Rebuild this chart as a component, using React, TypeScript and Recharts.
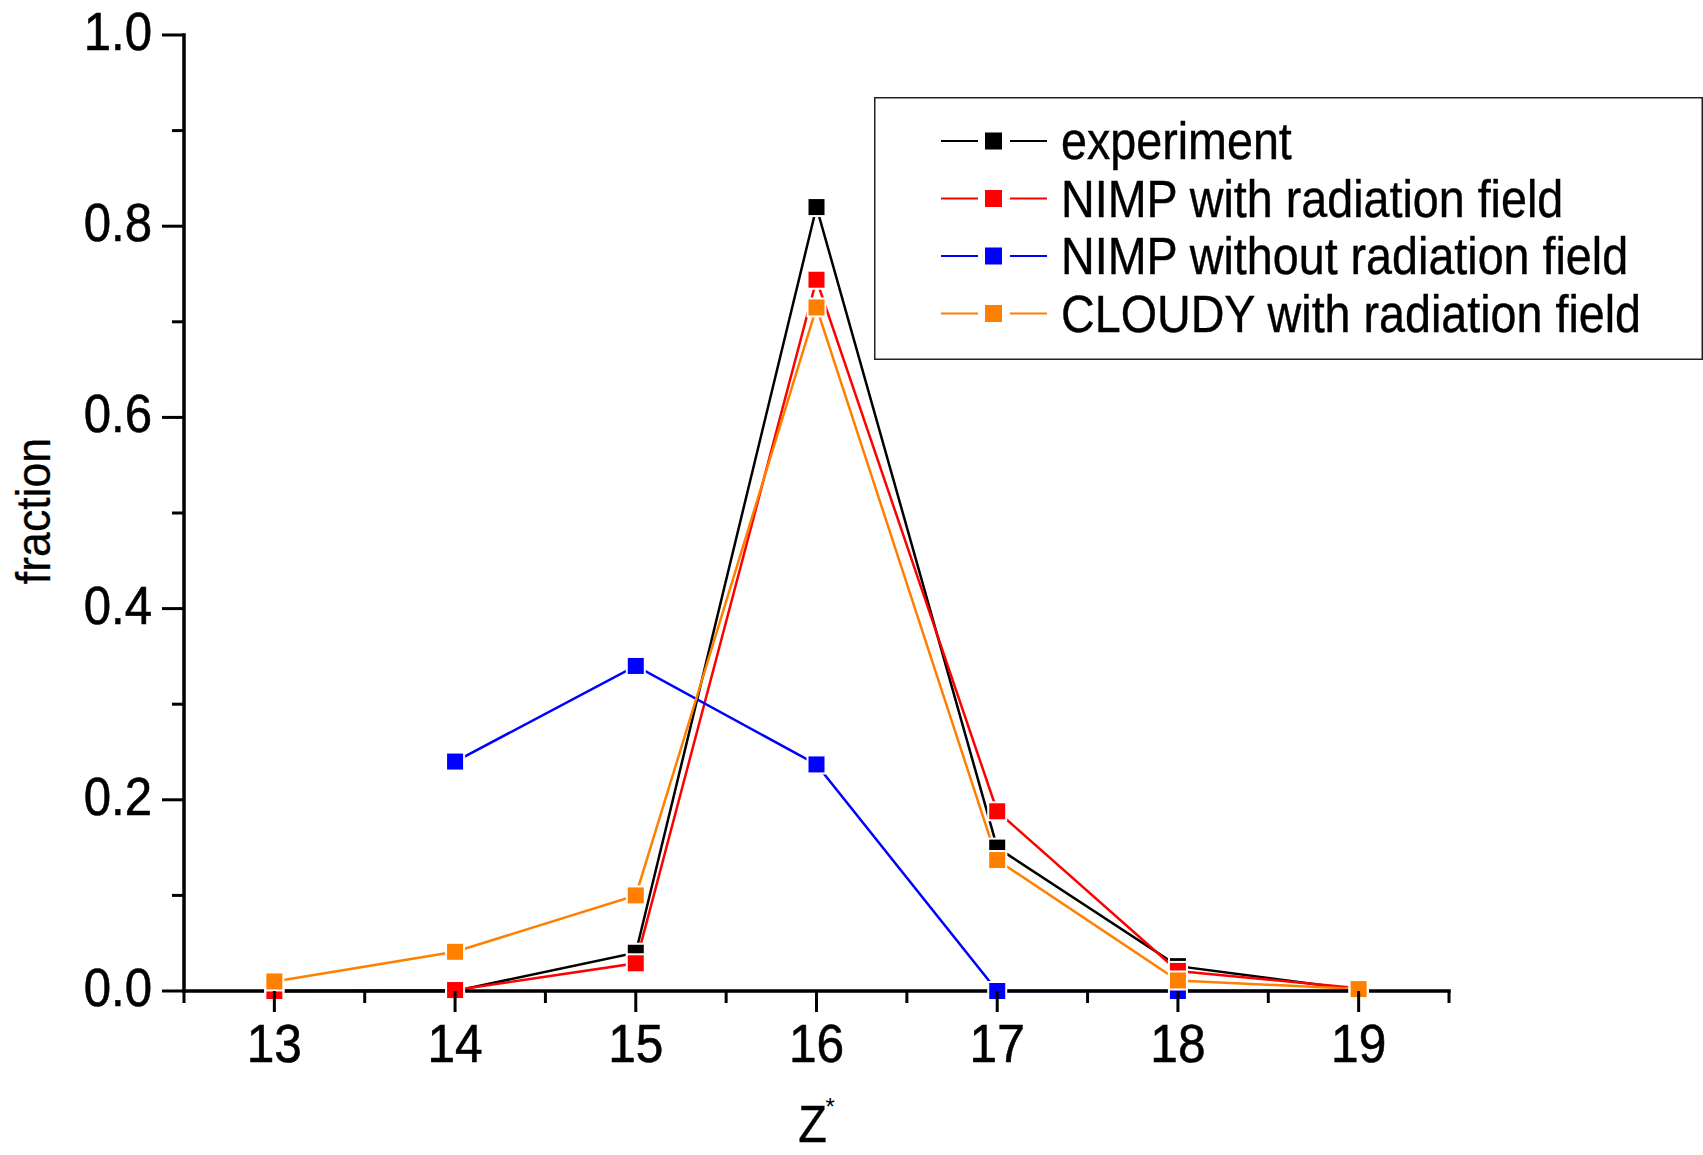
import React from "react";
import { LineChart, Line, XAxis, YAxis, Legend } from "recharts";

// ---- data ----
const Z_VALUES = [13, 14, 15, 16, 17, 18, 19];
const EXPERIMENT = [0, 0, 0.04, 0.82, 0.15, 0.026, 0.001];
const NIMP_WITH = [0, 0.001, 0.029, 0.744, 0.188, 0.021, 0.003];
const NIMP_WITHOUT = [null, 0.24, 0.34, 0.237, 0, 0, 0];
const CLOUDY_WITH = [0.01, 0.041, 0.1, 0.715, 0.137, 0.011, 0.002];

const X_TICKS = [12.5, 13, 13.5, 14, 14.5, 15, 15.5, 16, 16.5, 17, 17.5, 18, 18.5, 19, 19.5];
const Y_TICKS = [0, 0.1, 0.2, 0.3, 0.4, 0.5, 0.6, 0.7, 0.8, 0.9, 1.0];

const SERIES = [
  { key: "experiment", name: "experiment", color: "#000000" },
  { key: "nimpWith", name: "NIMP with radiation field", color: "#FF0000" },
  { key: "nimpWithout", name: "NIMP without radiation field", color: "#0000FF" },
  { key: "cloudy", name: "CLOUDY with radiation field", color: "#FF8000" },
];

const data = Z_VALUES.map((z, i) => ({
  z,
  experiment: EXPERIMENT[i],
  nimpWith: NIMP_WITH[i],
  nimpWithout: NIMP_WITHOUT[i],
  cloudy: CLOUDY_WITH[i],
}));

const FONT = "'Liberation Sans', Arial, Helvetica, sans-serif";
const MARK = 18;

const makeDot = (color: string) => (props: any) => {
  const { cx, cy, index } = props;
  if (cx == null || cy == null || isNaN(cx) || isNaN(cy)) return <g key={`e-${index}`} />;
  return (
    <rect
      key={`d-${index}`}
      x={cx - MARK / 2}
      y={cy - MARK / 2}
      width={MARK}
      height={MARK}
      fill={color}
      stroke="#ffffff"
      strokeWidth={2}
    />
  );
};

const XTick = (props: any) => {
  const { x, y, payload } = props;
  const v = payload.value;
  const major = Math.abs(v - Math.round(v)) < 1e-6;
  return (
    <g>
      <line x1={x} x2={x} y1={y} y2={y + (major ? 21 : 12)} stroke="#000" strokeWidth={3} />
      {major && (
        <text
          transform={`translate(${x},${y + 71}) scale(0.92,1)`}
          textAnchor="middle"
          fontSize={54}
          fontFamily={FONT}
          fill="#000"
          stroke="#000"
          strokeWidth={0.6}
        >
          {v}
        </text>
      )}
    </g>
  );
};

const YTick = (props: any) => {
  const { x, y, payload } = props;
  const v = payload.value;
  const major = Math.round(v * 10) % 2 === 0;
  return (
    <g>
      <line x1={x - (major ? 22 : 12)} x2={x} y1={y} y2={y} stroke="#000" strokeWidth={3} />
      {major && (
        <text
          transform={`translate(${x - 32},${y + 15}) scale(0.91,1)`}
          textAnchor="end"
          fontSize={54}
          fontFamily={FONT}
          fill="#000"
          stroke="#000"
          strokeWidth={0.6}
        >
          {v.toFixed(1)}
        </text>
      )}
    </g>
  );
};

const XTitle = (props: any) => {
  const vb = props.viewBox || { x: 184, y: 991, width: 1265 };
  const cx = vb.x + vb.width / 2 - 4;
  const base = vb.y + 151;
  return (
    <g>
      <text
        transform={`translate(${cx},${base}) scale(0.9,1)`}
        textAnchor="middle"
        fontSize={52}
        fontFamily={FONT}
        fill="#000"
        stroke="#000"
        strokeWidth={0.4}
      >
        Z
      </text>
      <text x={cx + 13} y={base - 27} fontSize={24} fontFamily={FONT} fill="#000">
        *
      </text>
    </g>
  );
};

const YTitle = (props: any) => {
  const vb = props.viewBox || { x: 0, y: 35, height: 956 };
  const cy = vb.y + vb.height / 2;
  return (
    <text
      transform={`translate(50,${cy - 2}) rotate(-90) scale(0.93,1)`}
      textAnchor="middle"
      fontSize={48}
      fontFamily={FONT}
      fill="#000"
      stroke="#000"
      strokeWidth={0.3}
    >
      fraction
    </text>
  );
};

const LegendBox = () => {
  const rows = [44, 101.5, 159, 216.5];
  return (
    <svg width={829} height={264} style={{ display: "block", fontFamily: FONT }}>
      <rect x={0.75} y={0.75} width={827.5} height={261.5} fill="#ffffff" stroke="#222" strokeWidth={1.5} />
      {SERIES.map((s, i) => (
        <g key={s.key}>
          <line x1={67} x2={104} y1={rows[i]} y2={rows[i]} stroke={s.color} strokeWidth={2.2} />
          <rect x={111} y={rows[i] - 8.5} width={17} height={17} fill={s.color} />
          <line x1={136} x2={173} y1={rows[i]} y2={rows[i]} stroke={s.color} strokeWidth={2.2} />
          <text
            transform={`translate(187,${rows[i] + 18}) scale(0.915,1)`}
            fontSize={51}
            fontFamily={FONT}
            fill="#000"
            stroke="#000"
            strokeWidth={0.4}
          >
            {s.name}
          </text>
        </g>
      ))}
    </svg>
  );
};

export default function App() {
  return (
    <div style={{ position: "absolute", left: 0, top: 0, width: 1703, height: 1155, background: "#fff" }}>
      <LineChart
        width={1703}
        height={1155}
        data={data}
        margin={{ top: 35, right: 254, bottom: 0, left: 0 }}
        style={{ fontFamily: FONT }}
      >
        <XAxis
          dataKey="z"
          type="number"
          domain={[12.5, 19.5]}
          ticks={X_TICKS}
          interval={0}
          height={164}
          tickSize={0}
          tickMargin={0}
          tickLine={false}
          tick={<XTick />}
          axisLine={{ stroke: "#000", strokeWidth: 3.5, strokeLinecap: "square" }}
          label={<XTitle />}
        />
        <YAxis
          type="number"
          domain={[0, 1]}
          ticks={Y_TICKS}
          interval={0}
          width={184}
          tickSize={0}
          tickMargin={0}
          tickLine={false}
          tick={<YTick />}
          axisLine={{ stroke: "#000", strokeWidth: 3.5, strokeLinecap: "square" }}
          label={<YTitle />}
        />
        <Legend
          layout="horizontal"
          verticalAlign="middle"
          align="center"
          content={<LegendBox />}
          wrapperStyle={{ position: "absolute", left: 874, top: 97, width: 829, height: 264, margin: 0, padding: 0 }}
        />
        {SERIES.map((s) => (
          <Line
            key={s.key}
            dataKey={s.key}
            name={s.name}
            stroke={s.color}
            strokeWidth={2.5}
            isAnimationActive={false}
            dot={makeDot(s.color)}
            activeDot={false}
            connectNulls={false}
          />
        ))}
      </LineChart>
    </div>
  );
}
